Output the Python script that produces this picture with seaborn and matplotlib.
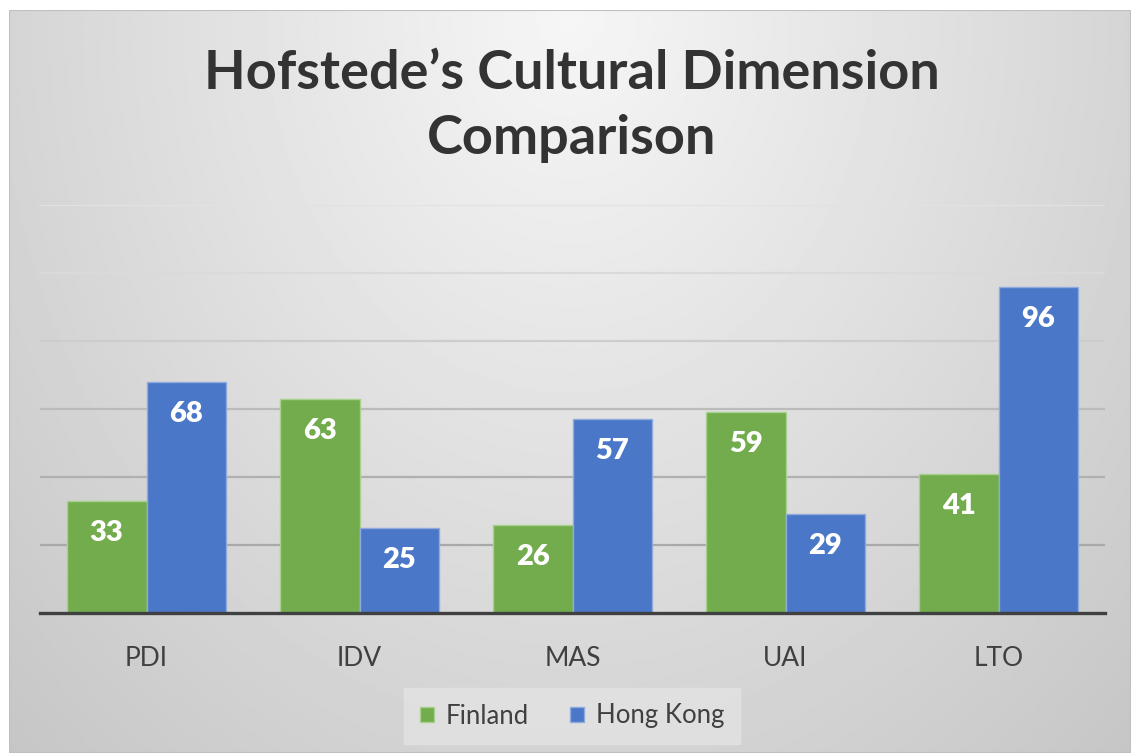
import numpy as np
import pandas as pd
import seaborn as sns
import matplotlib.pyplot as plt
from matplotlib.patches import Rectangle

# Chart data
dimensions = ['PDI', 'IDV', 'MAS', 'UAI', 'LTO']
finland = [33, 63, 26, 59, 41]
hong_kong = [68, 25, 57, 29, 96]
countries = ['Finland', 'Hong Kong']
colors = {'Finland': '#72AC4D', 'Hong Kong': '#4A77C7'}
edge_colors = {'Finland': '#A9D18E', 'Hong Kong': '#8FAADC'}

df = pd.DataFrame({
    'dim': dimensions * 2,
    'score': finland + hong_kong,
    'country': ['Finland'] * 5 + ['Hong Kong'] * 5,
})

sns.set_theme(style='white')
plt.rcParams['font.family'] = ['Lato', 'DejaVu Sans']

fig = plt.figure(figsize=(11.36, 7.53), dpi=100)
fig.patch.set_facecolor('white')

# Radial grey gradient background inside the chart frame
bg = fig.add_axes([9 / 1136, 0, 1122 / 1136, 1 - 10 / 753], zorder=-10)
yy, xx = np.mgrid[0:1:400j, 0:1:600j]
d = np.sqrt(((xx - 0.5) / 0.5) ** 2 + (yy / 0.95) ** 2)
shade = np.clip(0.965 - 0.13 * d, 0.76, 1.0)
bg.imshow(shade, cmap='gray', vmin=0, vmax=1, aspect='auto', origin='upper',
          extent=[0, 1, 0, 1], interpolation='bilinear')
bg.add_patch(Rectangle((0, 0), 1, 1, transform=bg.transAxes, fill=False,
                       edgecolor='#BFBFBF', linewidth=1.5))
bg.set_axis_off()

ax = fig.add_axes([40 / 1136, 1 - 613 / 753, 1065 / 1136, 408 / 753])
ax.patch.set_alpha(0)

sns.barplot(data=df, x='dim', y='score', hue='country', palette=colors,
            hue_order=countries, order=dimensions, width=0.75, saturation=1,
            ax=ax, legend=False, zorder=3)

# Gridlines, fading toward the lighter top of the chart
grid_colors = {20: '#A9A9A9', 40: '#B0B0B0', 60: '#BBBBBB', 80: '#CDCDCD',
               100: '#DADADA', 120: '#E2E2E2'}
for val, c in grid_colors.items():
    ax.axhline(val, color=c, linewidth=1.6, zorder=1)

ax.set_ylim(0, 120)
ax.set_xlim(-0.5, 4.5)
ax.set_yticks([])
ax.set_xlabel('')
ax.set_ylabel('')
for s in ['top', 'left', 'right']:
    ax.spines[s].set_visible(False)
ax.spines['bottom'].set_color('#404040')
ax.spines['bottom'].set_linewidth(2.4)
ax.spines['bottom'].set_zorder(5)
ax.tick_params(axis='x', length=0, pad=24, labelsize=19, labelcolor='#404040')

# Bar edges and value labels
for container, country in zip(ax.containers, countries):
    for bar in container:
        bar.set_edgecolor(edge_colors[country])
        bar.set_linewidth(1)
        h = bar.get_height()
        ax.annotate(f'{h:.0f}', (bar.get_x() + bar.get_width() / 2, h),
                    xytext=(0, -23), textcoords='offset points',
                    ha='center', va='center', color='white',
                    fontsize=21, fontweight='heavy', zorder=6)

fig.text(572 / 1136, 1 - 106 / 753, 'Hofstede\u2019s Cultural Dimension\nComparison',
         ha='center', va='center', fontsize=39, fontweight='bold',
         color='#333333', linespacing=1.42)

# Legend
handles = [Rectangle((0, 0), 1, 1, facecolor=colors[c], edgecolor=edge_colors[c])
           for c in countries]
leg = fig.legend(handles, countries, loc='center', ncol=2,
                 bbox_to_anchor=(572 / 1136, 1 - 716 / 753), frameon=True,
                 fontsize=18.5, handlelength=0.55, handleheight=0.55,
                 handletextpad=0.45, columnspacing=1.6, borderpad=0.6,
                 fancybox=False)
leg.get_frame().set_facecolor('#E3E3E3')
leg.get_frame().set_edgecolor('#E3E3E3')
for t in leg.get_texts():
    t.set_color('#404040')

fig.savefig('out.png', dpi=100)
